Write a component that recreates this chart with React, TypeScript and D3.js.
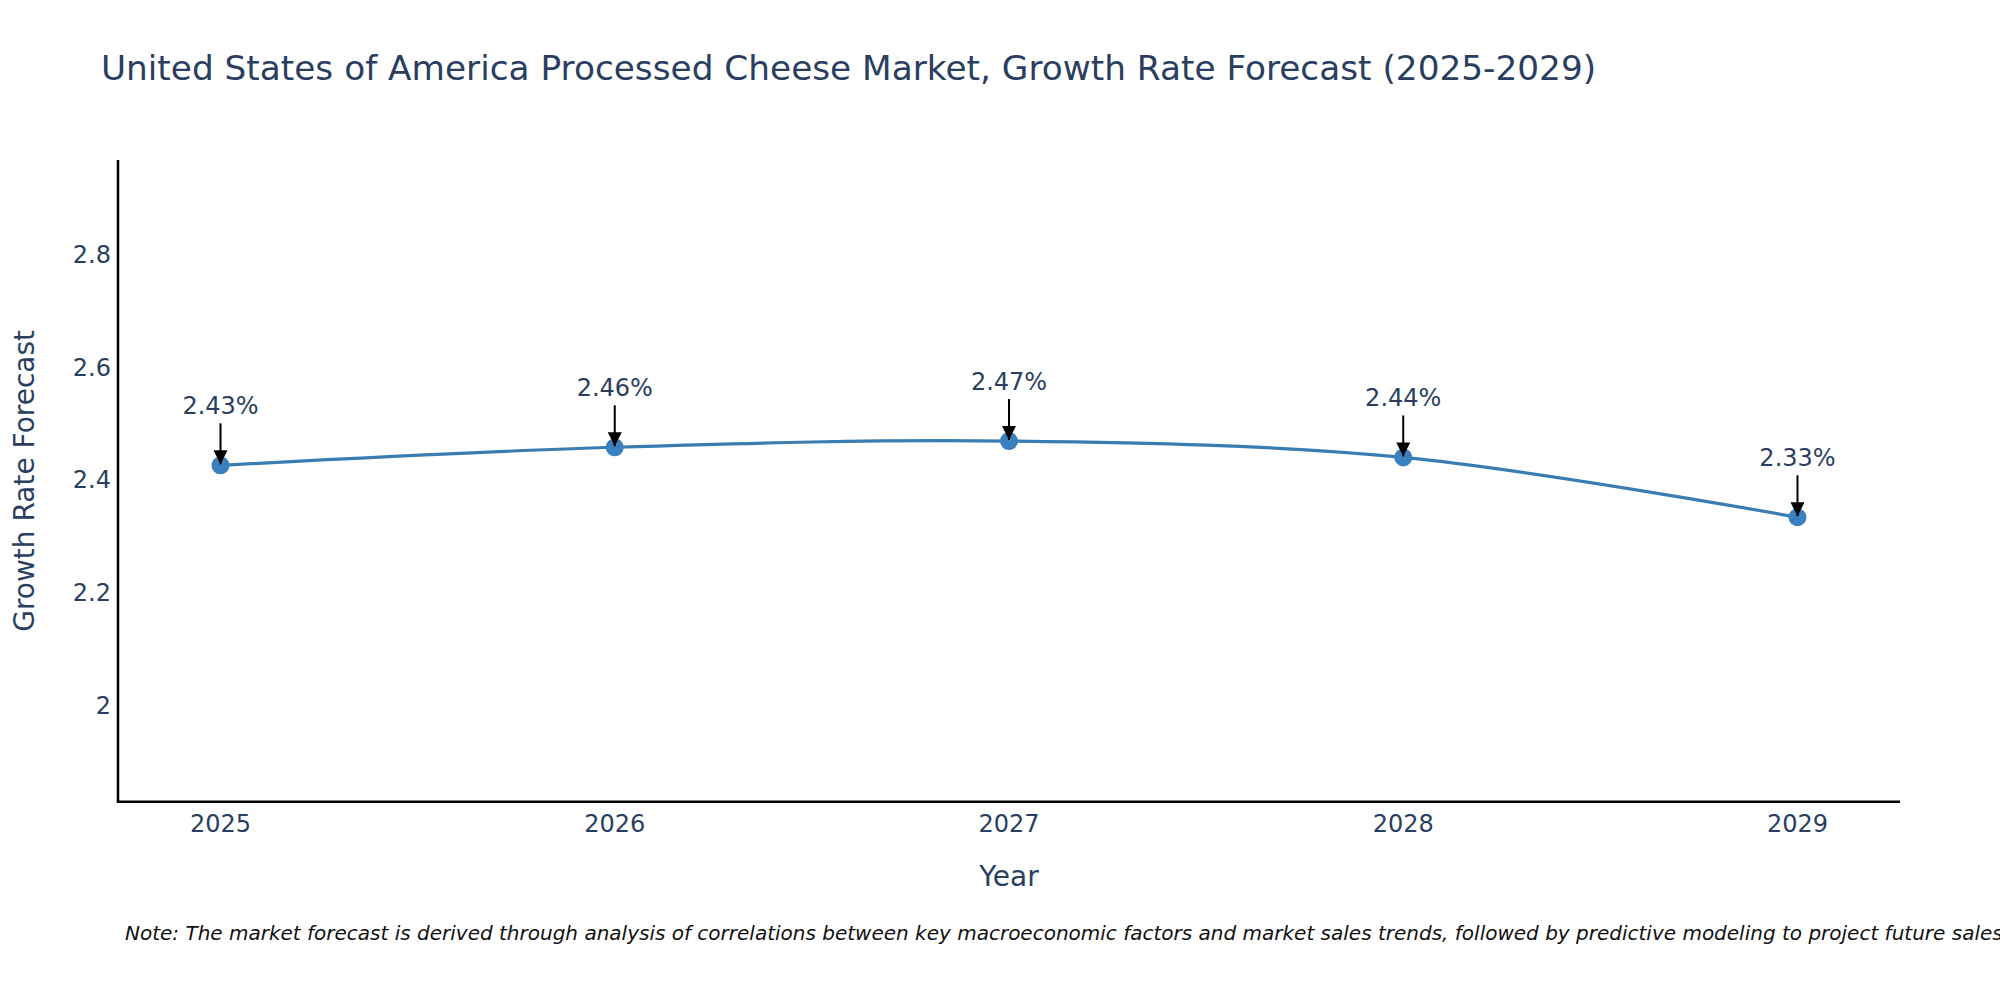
import React from "react";
import * as d3 from "d3";

const years = [2025, 2026, 2027, 2028, 2029];
const growth = [2.426, 2.458, 2.469, 2.44, 2.334];
const growthLabels = ["2.43%", "2.46%", "2.47%", "2.44%", "2.33%"];
const yTicks = [2, 2.2, 2.4, 2.6, 2.8];
const xTickLabels = ["2025", "2026", "2027", "2028", "2029"];

const titleText = "United States of America Processed Cheese Market, Growth Rate Forecast (2025-2029)";
const noteText =
  "Note: The market forecast is derived through analysis of correlations between key macroeconomic factors and market sales trends, followed by predictive modeling to project future sales.";

const W = 2000;
const H = 1000;
const left = 118;
const right = 1900;
const top = 160;
const bottom = 801.7;
const FONT = "'DejaVu Sans', Verdana, sans-serif";
const TXT = "#2a3f5f";
const LINE = "#3a7db3";
const MARK = "#3a80bf";

export default function App() {
  const x = d3.scaleLinear().domain([2024.74, 2029.26]).range([left, right]);
  const y = d3.scaleLinear().domain([1.83, 2.967]).range([bottom, top]);
  const pts: [number, number][] = years.map((yr, i) => [x(yr), y(growth[i])]);
  const path = d3.line().curve(d3.curveCatmullRom.alpha(0.5))(pts) || "";

  return (
    <svg
      width={W}
      height={H}
      style={{ position: "absolute", left: 0, top: 0, background: "#fff" }}
      fontFamily={FONT}
    >
      <defs>
        <marker id="ah" viewBox="0 0 10 10" refX="10" refY="5" markerWidth="14" markerHeight="14" markerUnits="userSpaceOnUse" orient="auto">
          <path d="M0,0 L10,5 L0,10 z" fill="#000" />
        </marker>
      </defs>
      <rect x={0} y={0} width={W} height={H} fill="#fff" />
      <text x={101} y={80} fontSize={34.3} fill={TXT}>
        {titleText}
      </text>

      {/* y tick labels */}
      {yTicks.map((t) => (
        <text key={t} x={111} y={y(t)} dy="0.35em" textAnchor="end" fontSize={24} fill={TXT}>
          {String(t)}
        </text>
      ))}
      {/* x tick labels */}
      {years.map((yr, i) => (
        <text key={yr} x={x(yr)} y={831.7} textAnchor="middle" fontSize={24} fill={TXT}>
          {xTickLabels[i]}
        </text>
      ))}

      {/* axes */}
      <line x1={left} x2={left} y1={top} y2={bottom + 1} stroke="#000" strokeWidth={2.5} />
      <line x1={left - 1} x2={right} y1={bottom} y2={bottom} stroke="#000" strokeWidth={2.5} />

      {/* axis titles */}
      <text
        transform={`translate(34,${(top + bottom) / 2}) rotate(-90)`}
        textAnchor="middle"
        fontSize={28}
        fill={TXT}
      >
        Growth Rate Forecast
      </text>
      <text x={(left + right) / 2} y={885.7} textAnchor="middle" fontSize={28} fill={TXT}>
        Year
      </text>

      {/* line */}
      <path d={path} fill="none" stroke={LINE} strokeWidth={3.2} />
      {pts.map(([px, py], i) => (
        <circle key={i} cx={px} cy={py} r={9} fill={MARK} />
      ))}

      {/* annotations */}
      {pts.map(([px, py], i) => (
        <g key={"a" + i}>
          <line x1={px} x2={px} y1={py - 42} y2={py - 1} stroke="#000" strokeWidth={2} markerEnd="url(#ah)" />
          <text x={px} y={py - 51} textAnchor="middle" fontSize={24} fill={TXT}>
            {growthLabels[i]}
          </text>
        </g>
      ))}

      <text x={125} y={940} fontSize={20} fontStyle="italic" fill="#111">
        {noteText}
      </text>
    </svg>
  );
}
